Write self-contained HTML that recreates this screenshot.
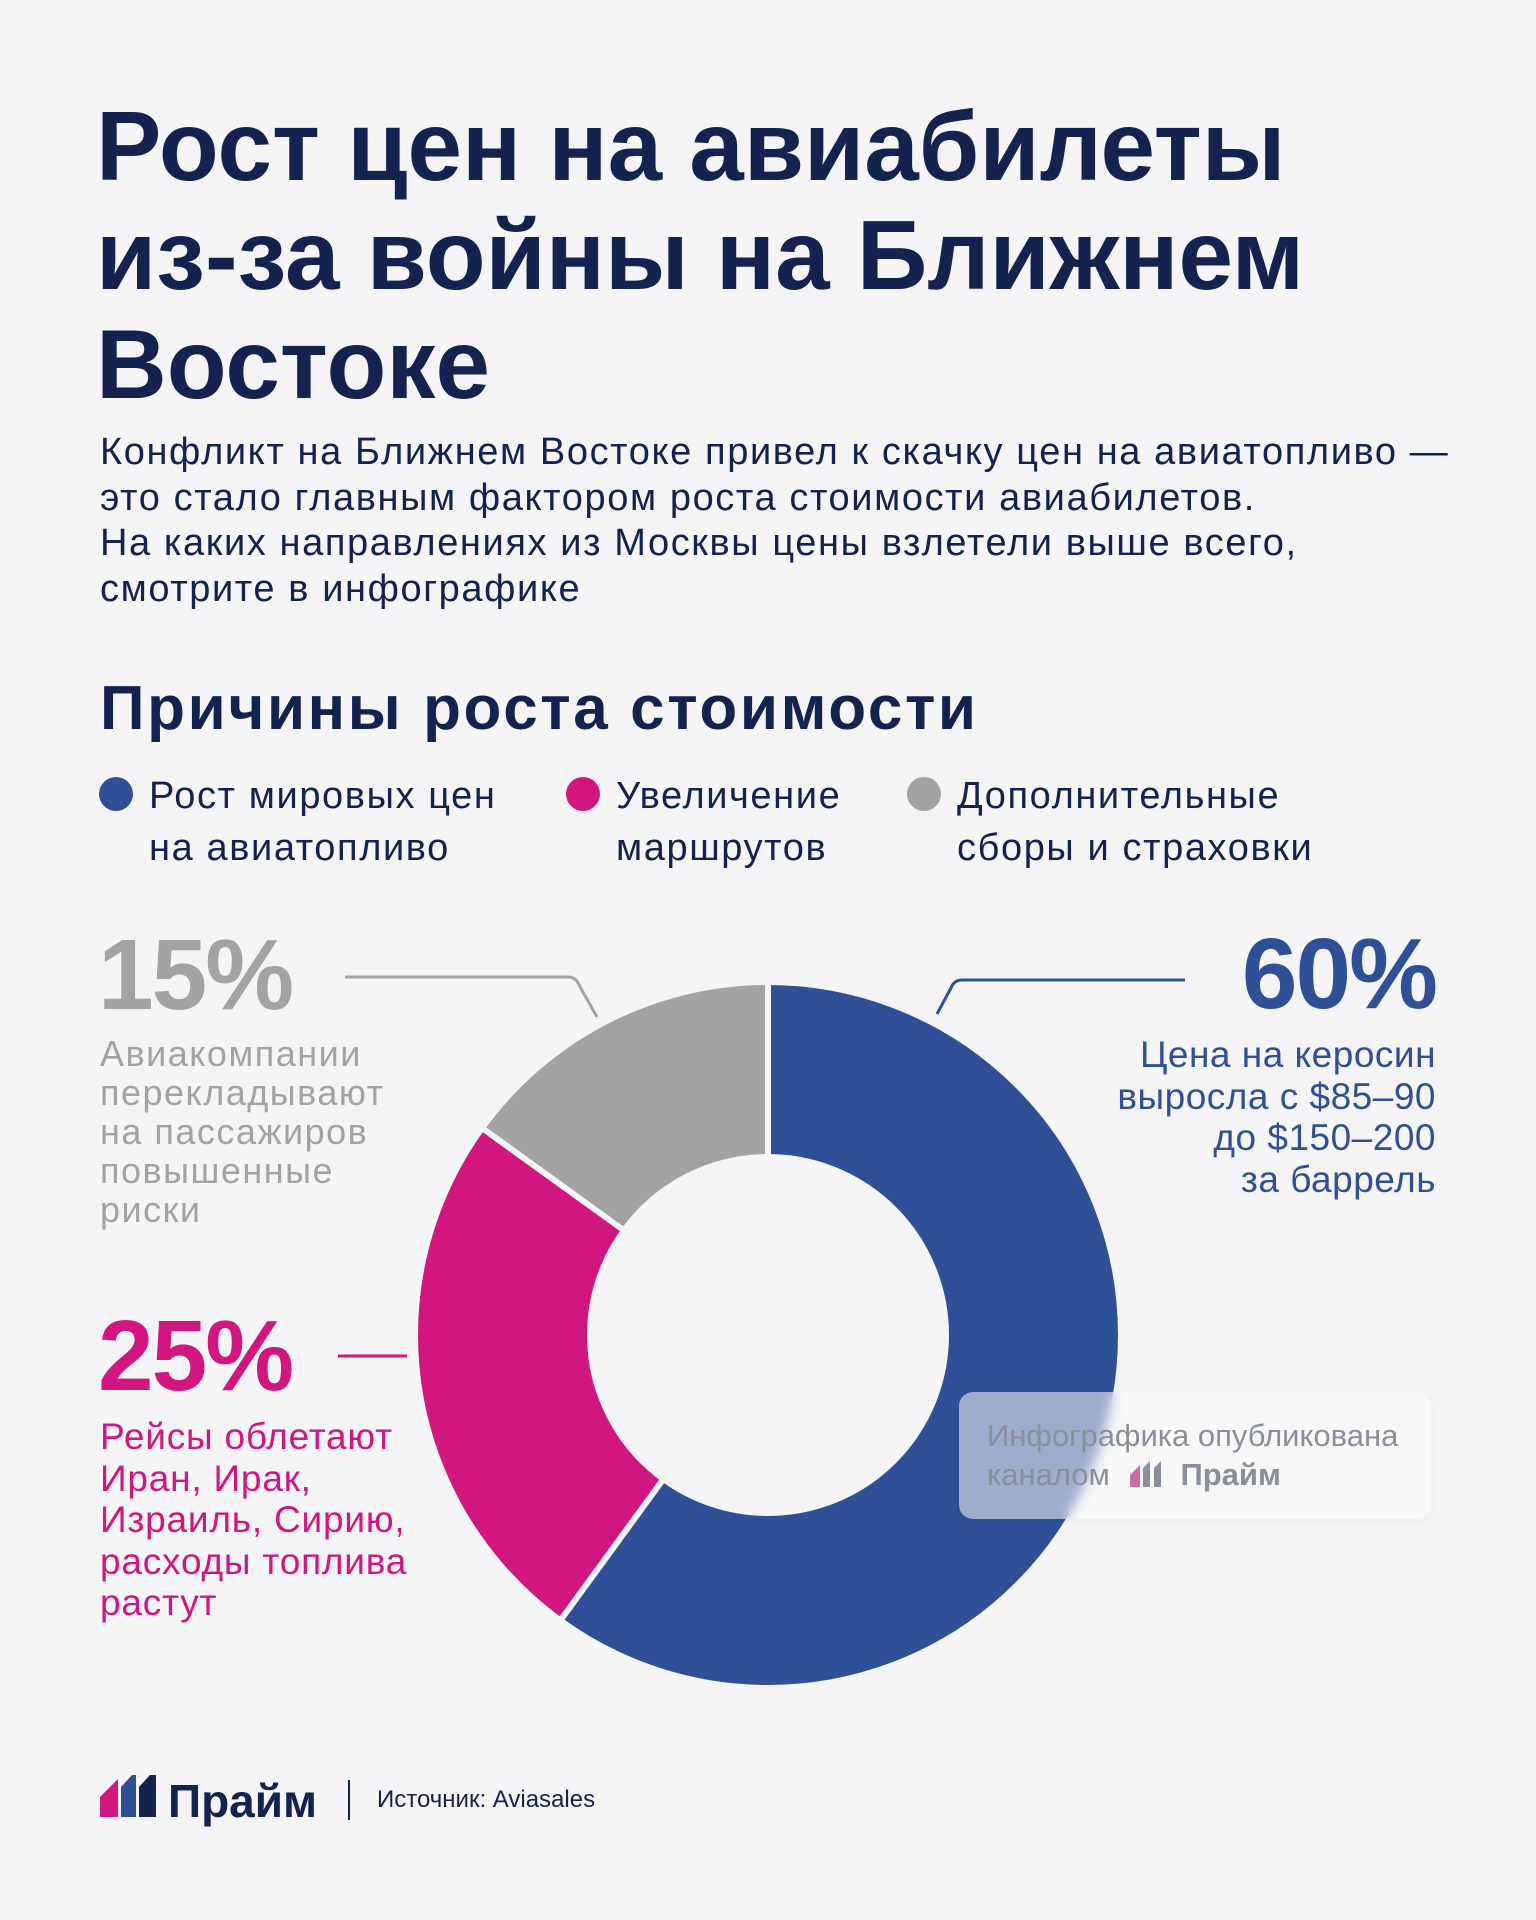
<!DOCTYPE html>
<html><head><meta charset="utf-8"><style>
html,body{margin:0;padding:0}
body{width:1536px;height:1920px;background:#f5f5f7;position:relative;overflow:hidden;font-family:"Liberation Sans","Noto Sans CJK SC",sans-serif}
.a{position:absolute;white-space:nowrap}
.title{left:96px;top:92px;font-size:98px;font-weight:bold;color:#13224f;line-height:109px;letter-spacing:0px}
.sub{left:100px;top:430px;font-size:38px;color:#13224f;line-height:45.5px;letter-spacing:1.6px}
.h2{left:100px;top:673px;font-size:62px;font-weight:bold;color:#13224f;letter-spacing:2.6px}
.leg{font-size:38px;color:#13224f;line-height:52px;top:770px;letter-spacing:1.6px}
.dot{position:absolute;width:34px;height:34px;border-radius:50%;top:777px}
.big{font-size:100px;font-weight:bold;letter-spacing:-2px;line-height:100px}
.txt{font-size:36px;line-height:39px}
</style></head><body>
<div class="a title">Рост цен на авиабилеты<br>из-за войны на Ближнем<br>Востоке</div>
<div class="a sub">Конфликт на Ближнем Востоке привел к скачку цен на авиатопливо —<br>это стало главным фактором роста стоимости авиабилетов.<br>На каких направлениях из Москвы цены взлетели выше всего,<br>смотрите в инфографике</div>
<div class="a h2">Причины роста стоимости</div>
<div class="dot" style="left:99px;background:#2f4f96"></div>
<div class="a leg" style="left:149px">Рост мировых цен<br>на авиатопливо</div>
<div class="dot" style="left:566px;background:#d2167f"></div>
<div class="a leg" style="left:616px">Увеличение<br>маршрутов</div>
<div class="dot" style="left:907px;background:#a3a3a3"></div>
<div class="a leg" style="left:957px">Дополнительные<br>сборы и страховки</div>

<svg class="a" style="left:0;top:0" width="1536" height="1920">
<g transform="rotate(-90 768 1335)" fill="none" stroke-width="169">
<circle cx="768" cy="1335" r="265.5" stroke="#2f4f96" stroke-dasharray="1000.9 2000"/>
<circle cx="768" cy="1335" r="265.5" stroke="#d2167f" stroke-dasharray="0 1000.9 417.05 2000"/>
<circle cx="768" cy="1335" r="265.5" stroke="#a3a3a3" stroke-dasharray="0 1417.95 250.3 2000"/>
</g>
<g stroke="#f5f5f7" stroke-width="6">
<line x1="768" y1="1156" x2="768" y2="980"/>
<line x1="662" y1="1481" x2="560" y2="1621"/>
<line x1="622" y1="1229" x2="482" y2="1128"/>
</g>
<g fill="none" stroke-width="3">
<path d="M345 977 H568 Q576 977 579 985 L597 1017" stroke="#a3a3a3"/>
<path d="M1185 980 H962 Q954 980 951 988 L937 1014" stroke="#2f4f96"/>
<path d="M338 1356 H407" stroke="#d2167f"/>
</g>
</svg>

<div class="a big" style="left:98px;top:925px;color:#a3a3a3">15%</div>
<div class="a txt" style="left:100px;top:1034px;color:#a3a3a3;letter-spacing:1.5px">Авиакомпании<br>перекладывают<br>на пассажиров<br>повышенные<br>риски</div>
<div class="a big" style="right:100px;top:924px;color:#2f4f96">60%</div>
<div class="a txt" style="right:100px;top:1034px;color:#2f4f96;text-align:right;line-height:41.5px;font-size:37px;letter-spacing:0.5px">Цена на керосин<br>выросла с $85–90<br>до $150–200<br>за баррель</div>
<div class="a big" style="left:98px;top:1306px;color:#d2167f">25%</div>
<div class="a txt" style="left:100px;top:1416px;color:#d2167f;line-height:41.5px;font-size:37px;letter-spacing:0.8px">Рейсы облетают<br>Иран, Ирак,<br>Израиль, Сирию,<br>расходы топлива<br>растут</div>

<div class="a" style="left:959px;top:1392px;width:472px;height:127px;border-radius:14px;background:rgba(250,250,252,0.55);backdrop-filter:blur(6px);box-shadow:0 2px 8px rgba(0,0,0,0.04)"></div>
<div class="a" style="left:987px;top:1416px;font-size:31px;color:#8a8f9a;line-height:39px">Инфографика опубликована<br>каналом <b style="margin-left:62px">Прайм</b></div>
<svg class="a" style="left:1130px;top:1461px" width="38" height="26"><polygon points="0,26 0,14 10,4 10,26" fill="#b5337f" opacity=".7"/><polygon points="13,26 13,7 20,0 20,26" fill="#8a8f9a"/><polygon points="24,26 24,7 31,0 31,26" fill="#8a8f9a"/></svg>

<svg class="a" style="left:100px;top:1775px" width="60" height="42"><polygon points="0,42 0,22 18,4 18,42" fill="#d2167f"/><polygon points="21,42 21,12 32,0 36,0 36,42" fill="#2f4f96"/><polygon points="39,42 39,12 50,0 56,0 56,42" fill="#13224f"/></svg>
<div class="a" style="left:168px;top:1774px;font-size:46px;font-weight:bold;color:#13224f">Прайм</div>
<div class="a" style="left:348px;top:1780px;width:2px;height:40px;background:#13224f"></div>
<div class="a" style="left:377px;top:1786px;font-size:24px;color:#13224f">Источник: Aviasales</div>
</body></html>
